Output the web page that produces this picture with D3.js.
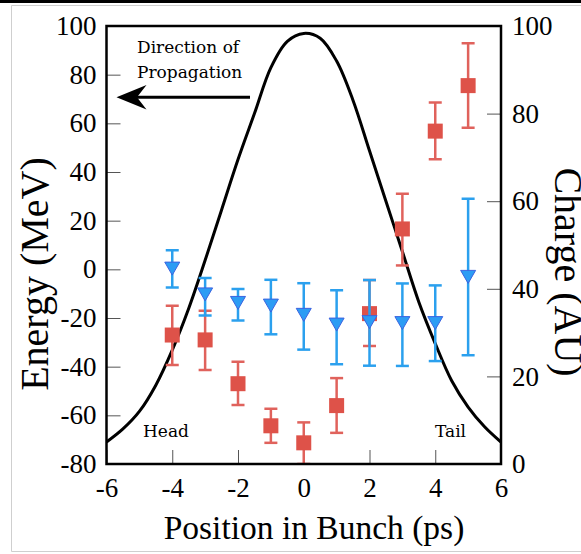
<!DOCTYPE html>
<html>
<head>
<meta charset="utf-8">
<script src="https://cdn.jsdelivr.net/npm/d3@7"></script>
<style>
  body { margin: 0; background: #fff; }
  svg { display: block; }
</style>
</head>
<body>
<div id="chart"></div>
<script>
// measured positions in the bunch (ps)
const positions = [-4, -3, -2, -1, 0, 1, 2, 3, 4, 5];

// red squares: energy with error range (MeV)
const redEnergy = [-27, -29, -47, -64.3, -71.3, -56, -18.2, 16.6, 56.8, 75.5];
const redHigh   = [-15, -17, -38, -57.3, -62.9, -44.7, -4.4, 31.1, 68.6, 92.9];
const redLow    = [-39.3, -41.4, -55.8, -71.3, -80, -67.2, -31.5, 1.6, 45.2, 58.2];

// blue triangles: energy with error range (MeV)
const blueEnergy = [0.5, -10.1, -13.6, -14.7, -18.5, -22.5, -21.5, -21.9, -21.9, -2.9];
const blueHigh   = [7.8, -3.6, -8.1, -4.3, -5.7, -8.6, -4.4, -5.8, -6.6, 29];
const blueLow    = [-7.5, -19, -21, -26.7, -33, -39, -39.6, -39.7, -37.7, -35.3];

// charge profile (AU)
const chargeX = [-6, -5.5, -5, -4.5, -4, -3.5, -3, -2.5, -2, -1.5, -1, -0.5, 0,
                 0.5, 1, 1.5, 2, 2.5, 3, 3.5, 4, 4.5, 5, 5.5, 6];
const chargeY = [5, 8, 12, 18, 26, 35.5, 46.5, 58, 69.5, 80, 90.5, 96.5, 98.3,
                 97.2, 92, 83, 71.5, 60, 48.5, 37, 27.5, 19, 13, 8.5, 5];

const xTicks = [-6, -4, -2, 0, 2, 4, 6];
const energyTicks = [-80, -60, -40, -20, 0, 20, 40, 60, 80, 100];
const chargeTicks = [0, 20, 40, 60, 80, 100];

const width = 581, height = 554;
const plotLeft = 106.5, plotRight = 501, plotTop = 26, plotBottom = 464;
const serif = '"Liberation Serif", "Times New Roman", serif';
const labelFont = '"DejaVu Serif", serif';

const svg = d3.select('#chart').append('svg')
  .attr('width', width)
  .attr('height', height);

// page border
svg.append('rect').attr('x', 0).attr('y', 0).attr('width', width).attr('height', 3).attr('fill', '#000');
svg.append('path')
  .attr('d', `M${width},5.5 H11.5 V551.5 H${width}`)
  .attr('fill', 'none').attr('stroke', '#cfcfcf').attr('stroke-width', 1);

const x = d3.scaleLinear().domain([-6, 6]).range([plotLeft, plotRight]);
const yE = d3.scaleLinear().domain([-80, 100]).range([plotBottom, plotTop]);
const yC = d3.scaleLinear().domain([0, 100]).range([plotBottom, plotTop]);

// axes with inward ticks
const styleAxis = g => {
  g.select('.domain').remove();
  g.selectAll('.tick line').attr('stroke', '#555').attr('stroke-width', 1);
  g.selectAll('.tick text').attr('fill', '#000').style('font-family', serif).style('font-size', '27px');
};

svg.append('g')
  .attr('transform', `translate(0,${plotBottom})`)
  .call(d3.axisBottom(x).tickValues(xTicks).tickSize(-14).tickPadding(36).tickFormat(d => String(d)))
  .call(styleAxis)
  .selectAll('.tick text').attr('dy', '-0.1em');

svg.append('g')
  .attr('transform', `translate(${plotLeft},0)`)
  .call(d3.axisLeft(yE).tickValues(energyTicks).tickSize(-14).tickPadding(10).tickFormat(d => String(d)))
  .call(styleAxis);

svg.append('g')
  .attr('transform', `translate(${plotRight},0)`)
  .call(d3.axisRight(yC).tickValues(chargeTicks).tickSize(-14).tickPadding(11).tickFormat(d => String(d)))
  .call(styleAxis);

// charge curve
svg.append('clipPath').attr('id', 'plot-clip')
  .append('rect').attr('x', plotLeft).attr('y', plotTop)
  .attr('width', plotRight - plotLeft).attr('height', plotBottom - plotTop);

const curve = chargeX.map((v, i) => [v, chargeY[i]]);
svg.append('path')
  .datum(curve)
  .attr('clip-path', 'url(#plot-clip)')
  .attr('fill', 'none')
  .attr('stroke', '#000')
  .attr('stroke-width', 3)
  .attr('d', d3.line().x(d => x(d[0])).y(d => yC(d[1])).curve(d3.curveCatmullRom));

// error bars
function drawErrors(hi, lo, color) {
  const g = svg.append('g').attr('clip-path', 'url(#plot-clip)')
    .attr('stroke', color).attr('stroke-width', 2.5).attr('fill', 'none');
  positions.forEach((p, i) => {
    const cx = x(p);
    g.append('line').attr('x1', cx).attr('x2', cx).attr('y1', yE(hi[i])).attr('y2', yE(lo[i]));
    g.append('line').attr('x1', cx - 6.5).attr('x2', cx + 6.5).attr('y1', yE(hi[i])).attr('y2', yE(hi[i]));
    g.append('line').attr('x1', cx - 6.5).attr('x2', cx + 6.5).attr('y1', yE(lo[i])).attr('y2', yE(lo[i]));
  });
}

drawErrors(redHigh, redLow, '#e0625c');

svg.append('g').selectAll('rect')
  .data(positions)
  .join('rect')
  .attr('x', d => x(d) - 7.5)
  .attr('y', (d, i) => yE(redEnergy[i]) - 7.5)
  .attr('width', 15)
  .attr('height', 15)
  .attr('fill', '#de5249');

drawErrors(blueHigh, blueLow, '#2ba0ee');

svg.append('g').selectAll('path')
  .data(positions)
  .join('path')
  .attr('d', (d, i) => {
    const cx = x(d), cy = yE(blueEnergy[i]);
    return `M${cx - 7.5},${cy - 6} L${cx + 7.5},${cy - 6} L${cx},${cy + 7} Z`;
  })
  .attr('fill', '#2c9cf4')
  .attr('stroke', '#3b63e0')
  .attr('stroke-width', 1);

// frame
svg.append('rect')
  .attr('x', plotLeft).attr('y', plotTop)
  .attr('width', plotRight - plotLeft).attr('height', plotBottom - plotTop)
  .attr('fill', 'none').attr('stroke', '#000').attr('stroke-width', 2.5);

// annotations
svg.append('text').attr('x', 137).attr('y', 53).text('Direction of')
  .style('font-family', labelFont).style('font-size', '17px');
svg.append('text').attr('x', 137).attr('y', 78).text('Propagation')
  .style('font-family', labelFont).style('font-size', '17px');

svg.append('line')
  .attr('x1', 250).attr('x2', 132).attr('y1', 97.3).attr('y2', 97.3)
  .attr('stroke', '#000').attr('stroke-width', 3);
svg.append('path')
  .attr('d', 'M116.5,97.3 L146.5,85 L137,97.3 L146.5,109.6 Z')
  .attr('fill', '#000');

svg.append('text').attr('x', 143).attr('y', 437).text('Head')
  .style('font-family', labelFont).style('font-size', '17px');
svg.append('text').attr('x', 435).attr('y', 437).text('Tail')
  .style('font-family', labelFont).style('font-size', '17px');

// axis titles
svg.append('text')
  .attr('x', 314).attr('y', 539)
  .attr('text-anchor', 'middle')
  .style('font-family', serif).style('font-size', '33.5px')
  .text('Position in Bunch (ps)');

svg.append('text')
  .attr('transform', 'translate(48,274) rotate(-90)')
  .attr('text-anchor', 'middle')
  .style('font-family', serif).style('font-size', '40px')
  .text('Energy (MeV)');

svg.append('text')
  .attr('transform', 'translate(555,272) rotate(90)')
  .attr('text-anchor', 'middle')
  .style('font-family', serif).style('font-size', '40px')
  .text('Charge (AU)');
</script>
</body>
</html>
